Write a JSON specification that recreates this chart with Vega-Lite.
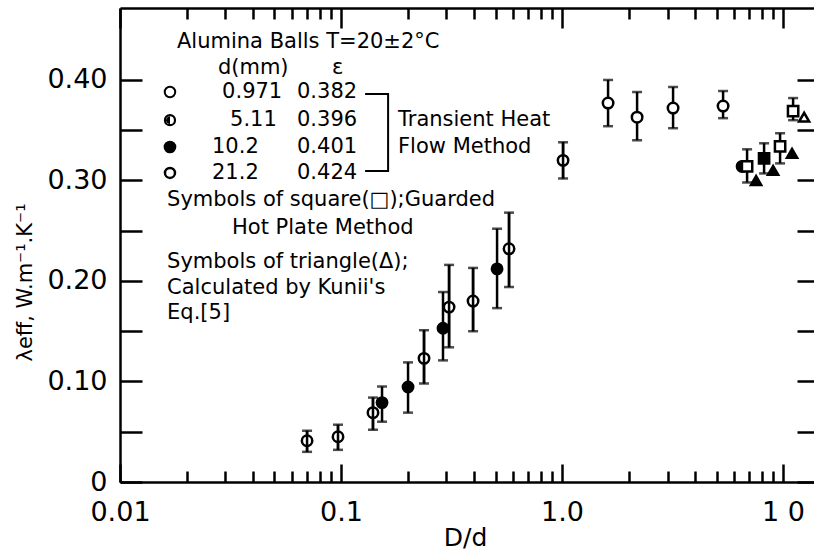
{
  "$schema": "https://vega.github.io/schema/vega-lite/v6.json",
  "width": 694,
  "height": 474,
  "autosize": "none",
  "padding": {"left": 120, "top": 8, "right": 0, "bottom": 70},
  "background": "white",
  "datasets": {
    "pts": [
      {"x": 0.0702, "y": 0.041, "lo": 0.030, "hi": 0.051, "m": "phi"},
      {"x": 0.0969, "y": 0.045, "lo": 0.032, "hi": 0.057, "m": "phi"},
      {"x": 0.1395, "y": 0.069, "lo": 0.052, "hi": 0.084, "m": "phi"},
      {"x": 0.1533, "y": 0.079, "lo": 0.060, "hi": 0.095, "m": "filled"},
      {"x": 0.2010, "y": 0.0945, "lo": 0.069, "hi": 0.119, "m": "filled"},
      {"x": 0.2374, "y": 0.123, "lo": 0.098, "hi": 0.151, "m": "phi"},
      {"x": 0.2893, "y": 0.153, "lo": 0.121, "hi": 0.189, "m": "filled"},
      {"x": 0.3082, "y": 0.174, "lo": 0.134, "hi": 0.216, "m": "phi"},
      {"x": 0.3957, "y": 0.180, "lo": 0.150, "hi": 0.213, "m": "phi"},
      {"x": 0.5081, "y": 0.212, "lo": 0.173, "hi": 0.252, "m": "filled"},
      {"x": 0.5756, "y": 0.232, "lo": 0.194, "hi": 0.268, "m": "phi"},
      {"x": 1.0105, "y": 0.320, "lo": 0.302, "hi": 0.338, "m": "phi"},
      {"x": 1.615, "y": 0.377, "lo": 0.354, "hi": 0.400, "m": "open"},
      {"x": 2.185, "y": 0.363, "lo": 0.340, "hi": 0.388, "m": "open"},
      {"x": 3.179, "y": 0.372, "lo": 0.352, "hi": 0.393, "m": "open"},
      {"x": 5.352, "y": 0.374, "lo": 0.362, "hi": 0.389, "m": "open"},
      {"x": 6.525, "y": 0.314, "lo": null, "hi": null, "m": "filled"},
      {"x": 6.873, "y": 0.314, "lo": 0.298, "hi": 0.331, "m": "sq_open"},
      {"x": 7.548, "y": 0.300, "lo": null, "hi": null, "m": "tri_filled"},
      {"x": 8.204, "y": 0.322, "lo": 0.307, "hi": 0.337, "m": "sq_filled"},
      {"x": 9.012, "y": 0.310, "lo": null, "hi": null, "m": "tri_filled"},
      {"x": 9.692, "y": 0.334, "lo": 0.317, "hi": 0.347, "m": "sq_open"},
      {"x": 10.98, "y": 0.327, "lo": null, "hi": null, "m": "tri_filled"},
      {"x": 11.10, "y": 0.369, "lo": 0.360, "hi": 0.382, "m": "sq_open"},
      {"x": 12.45, "y": 0.363, "lo": null, "hi": null, "m": "tri_open"}
    ],
    "leg": [
      {"x": 0.01683, "y": 0.388, "m": "open"},
      {"x": 0.01683, "y": 0.360, "m": "half"},
      {"x": 0.01683, "y": 0.3333, "m": "filled"},
      {"x": 0.01683, "y": 0.3075, "m": "ring"}
    ],
    "ann": [
      {"x": 0.01811, "y": 0.4378, "t": "Alumina Balls  T=20±2°C"},
      {"x": 0.02773, "y": 0.412, "t": "d(mm)"},
      {"x": 0.0910, "y": 0.412, "t": "ε"},
      {"x": 0.02897, "y": 0.388, "t": "0.971"},
      {"x": 0.0632, "y": 0.388, "t": "0.382"},
      {"x": 0.03148, "y": 0.360, "t": "5.11"},
      {"x": 0.0632, "y": 0.360, "t": "0.396"},
      {"x": 0.02607, "y": 0.3333, "t": "10.2"},
      {"x": 0.0632, "y": 0.3333, "t": "0.401"},
      {"x": 0.02607, "y": 0.3075, "t": "21.2"},
      {"x": 0.0632, "y": 0.3075, "t": "0.424"},
      {"x": 0.1811, "y": 0.360, "t": "Transient Heat"},
      {"x": 0.1811, "y": 0.3333, "t": "Flow Method"},
      {"x": 0.01633, "y": 0.2806, "t": "Symbols of square(□);Guarded"},
      {"x": 0.03214, "y": 0.2527, "t": "Hot Plate Method"},
      {"x": 0.01633, "y": 0.2189, "t": "Symbols of triangle(Δ);"},
      {"x": 0.01633, "y": 0.193, "t": "Calculated by Kunii's"},
      {"x": 0.01633, "y": 0.168, "t": "Eq.[5]"}
    ],
    "brk": [
      {"x": 0.1285, "y": 0.386, "o": 1},
      {"x": 0.1633, "y": 0.386, "o": 2},
      {"x": 0.1633, "y": 0.3095, "o": 3},
      {"x": 0.1285, "y": 0.3095, "o": 4}
    ]
  },
  "resolve": {"axis": {"x": "independent", "y": "independent"}},
  "layer": [
    {
      "data": {"name": "pts"},
      "transform": [{"filter": "isValid(datum.lo)"}],
      "mark": {"type": "rule", "stroke": "black", "strokeWidth": 2.5},
      "encoding": {
        "x": {"field": "x", "type": "quantitative", "scale": {"type": "log", "domain": [0.01, 13.8], "nice": false},
          "axis": {"orient": "bottom", "values": [0.01,0.02,0.03,0.04,0.05,0.06,0.07,0.08,0.09,0.1,0.2,0.3,0.4,0.5,0.6,0.7,0.8,0.9,1,2,3,4,5,6,7,8,9,10],
            "labelExpr": "datum.value==0.01?'0.01':datum.value==0.1?'0.1':datum.value==1?'1.0':datum.value==10?'1 0':''",
            "tickSize": {"condition": {"test": "datum.value==0.01||datum.value==0.1||datum.value==1||datum.value==10", "value": -18}, "value": -11},
            "labelPadding": 35, "labelOverlap": false, "labelFlush": false,
            "title": "D/d", "titleFontSize": 25, "titleX": 345, "titleY": 55, "titleAlign": "center", "titleBaseline": "middle"}},
        "y": {"field": "lo", "type": "quantitative", "scale": {"domain": [0, 0.4716], "nice": false, "zero": false},
          "axis": {"orient": "left", "values": [0,0.05,0.1,0.15,0.2,0.25,0.3,0.35,0.4],
            "labelExpr": "datum.value==0?'0':(datum.value==0.1||datum.value==0.2||datum.value==0.3||datum.value==0.4)?format(datum.value,'.2f'):''",
            "tickSize": -22, "labelPadding": 35, "labelOverlap": false, "labelFlush": false,
            "title": "λeff, W.m⁻¹.K⁻¹", "titleFontSize": 21, "titleX": -95, "titleY": 274, "titleAlign": "center", "titleBaseline": "middle"}},
        "y2": {"field": "hi"}
      }
    },
    {
      "data": {"name": "pts"},
      "transform": [{"filter": "isValid(datum.lo)"}],
      "mark": {"type": "tick", "orient": "horizontal", "color": "black", "size": 10, "thickness": 2.5},
      "encoding": {
        "x": {"field": "x", "type": "quantitative", "scale": {"type": "log", "domain": [0.01, 13.8], "nice": false}, "axis": null},
        "y": {"field": "lo", "type": "quantitative", "scale": {"domain": [0, 0.4716], "nice": false, "zero": false}, "axis": null}
      }
    },
    {
      "data": {"name": "pts"},
      "transform": [{"filter": "isValid(datum.hi)"}],
      "mark": {"type": "tick", "orient": "horizontal", "color": "black", "size": 10, "thickness": 2.5},
      "encoding": {
        "x": {"field": "x", "type": "quantitative", "scale": {"type": "log", "domain": [0.01, 13.8], "nice": false}, "axis": null},
        "y": {"field": "hi", "type": "quantitative", "scale": {"domain": [0, 0.4716], "nice": false, "zero": false}, "axis": null}
      }
    },
    {
      "data": {"name": "pts"},
      "mark": {"type": "point", "filled": false, "stroke": "black", "strokeWidth": 2.5, "opacity": 1},
      "encoding": {
        "x": {"field": "x", "type": "quantitative", "scale": {"type": "log", "domain": [0.01, 13.8], "nice": false},
          "axis": {"orient": "top", "values": [0.01,0.02,0.03,0.04,0.05,0.06,0.07,0.08,0.09,0.1,0.2,0.3,0.4,0.5,0.6,0.7,0.8,0.9,1,2,3,4,5,6,7,8,9,10],
            "labels": false, "title": null,
            "tickSize": {"condition": {"test": "datum.value==0.01||datum.value==0.1||datum.value==1||datum.value==10", "value": -20}, "value": -11}}},
        "y": {"field": "y", "type": "quantitative", "scale": {"domain": [0, 0.4716], "nice": false, "zero": false},
          "axis": {"orient": "right", "values": [0,0.05,0.1,0.15,0.2,0.25,0.3,0.35,0.4], "labels": false, "title": null, "domain": false, "tickSize": -17}},
        "shape": {"field": "m", "type": "nominal", "legend": null,
          "scale": {"domain": ["open","phi","filled","sq_open","sq_filled","tri_filled","tri_open"], "range": ["circle","circle","circle","square","square","triangle-up","triangle-up"]}},
        "fill": {"field": "m", "type": "nominal", "legend": null,
          "scale": {"domain": ["open","phi","filled","sq_open","sq_filled","tri_filled","tri_open"], "range": ["white","white","black","white","black","black","white"]}},
        "size": {"field": "m", "type": "ordinal", "legend": null,
          "scale": {"domain": ["open","phi","filled","sq_open","sq_filled","tri_filled","tri_open"], "range": [110,100,120,80,80,90,80]}}
      }
    },
    {
      "data": {"name": "pts"},
      "transform": [{"filter": "datum.m=='phi'"}],
      "mark": {"type": "rule", "stroke": "black", "strokeWidth": 2.5},
      "encoding": {
        "x": {"field": "x", "type": "quantitative", "scale": {"type": "log", "domain": [0.01, 13.8], "nice": false}, "axis": null},
        "y": {"field": "lo", "type": "quantitative", "scale": {"domain": [0, 0.4716], "nice": false, "zero": false}, "axis": null},
        "y2": {"field": "hi"}
      }
    },
    {
      "data": {"name": "leg"},
      "mark": {"type": "point", "shape": "circle", "stroke": "black", "opacity": 1},
      "encoding": {
        "x": {"field": "x", "type": "quantitative", "scale": {"type": "log", "domain": [0.01, 13.8], "nice": false}, "axis": null},
        "y": {"field": "y", "type": "quantitative", "scale": {"domain": [0, 0.4716], "nice": false, "zero": false}, "axis": null},
        "fill": {"field": "m", "type": "nominal", "legend": null,
          "scale": {"domain": ["open","half","filled","ring"], "range": ["white","white","black","white"]}},
        "strokeWidth": {"field": "m", "type": "nominal", "legend": null,
          "scale": {"domain": ["open","half","filled","ring"], "range": [2,2.5,1,4]}},
        "size": {"field": "m", "type": "ordinal", "legend": null,
          "scale": {"domain": ["open","half","filled","ring"], "range": [55,60,75,45]}}
      }
    },
    {
      "data": {"name": "leg"},
      "transform": [{"filter": "datum.m=='half'"}],
      "mark": {"type": "point", "shape": "M0,-1A1,1,0,0,0,0,1Z", "filled": true, "color": "black", "size": 60, "opacity": 1},
      "encoding": {
        "x": {"field": "x", "type": "quantitative", "scale": {"type": "log", "domain": [0.01, 13.8], "nice": false}, "axis": null},
        "y": {"field": "y", "type": "quantitative", "scale": {"domain": [0, 0.4716], "nice": false, "zero": false}, "axis": null}
      }
    },
    {
      "data": {"name": "ann"},
      "mark": {"type": "text", "align": "left", "baseline": "middle", "font": "DejaVu Sans", "fontSize": 21, "color": "black"},
      "encoding": {
        "x": {"field": "x", "type": "quantitative", "scale": {"type": "log", "domain": [0.01, 13.8], "nice": false}, "axis": null},
        "y": {"field": "y", "type": "quantitative", "scale": {"domain": [0, 0.4716], "nice": false, "zero": false}, "axis": null},
        "text": {"field": "t"}
      }
    },
    {
      "data": {"name": "brk"},
      "mark": {"type": "line", "stroke": "black", "strokeWidth": 2},
      "encoding": {
        "x": {"field": "x", "type": "quantitative", "scale": {"type": "log", "domain": [0.01, 13.8], "nice": false}, "axis": null},
        "y": {"field": "y", "type": "quantitative", "scale": {"domain": [0, 0.4716], "nice": false, "zero": false}, "axis": null},
        "order": {"field": "o"}
      }
    },
    {
      "mark": {"type": "rule", "stroke": "black", "strokeWidth": 2},
      "encoding": {
        "x": {"datum": 6.12, "type": "quantitative", "scale": {"type": "log", "domain": [0.01, 13.8], "nice": false}, "axis": null}
      }
    }
  ],
  "config": {
    "view": {"stroke": null},
    "axis": {"domainColor": "black", "domainWidth": 2.5, "tickColor": "black", "tickWidth": 2.5, "labelColor": "black", "titleColor": "black",
      "labelFont": "DejaVu Sans", "titleFont": "DejaVu Sans", "labelFontSize": 27, "titleFontWeight": "normal", "grid": false}
  }
}
